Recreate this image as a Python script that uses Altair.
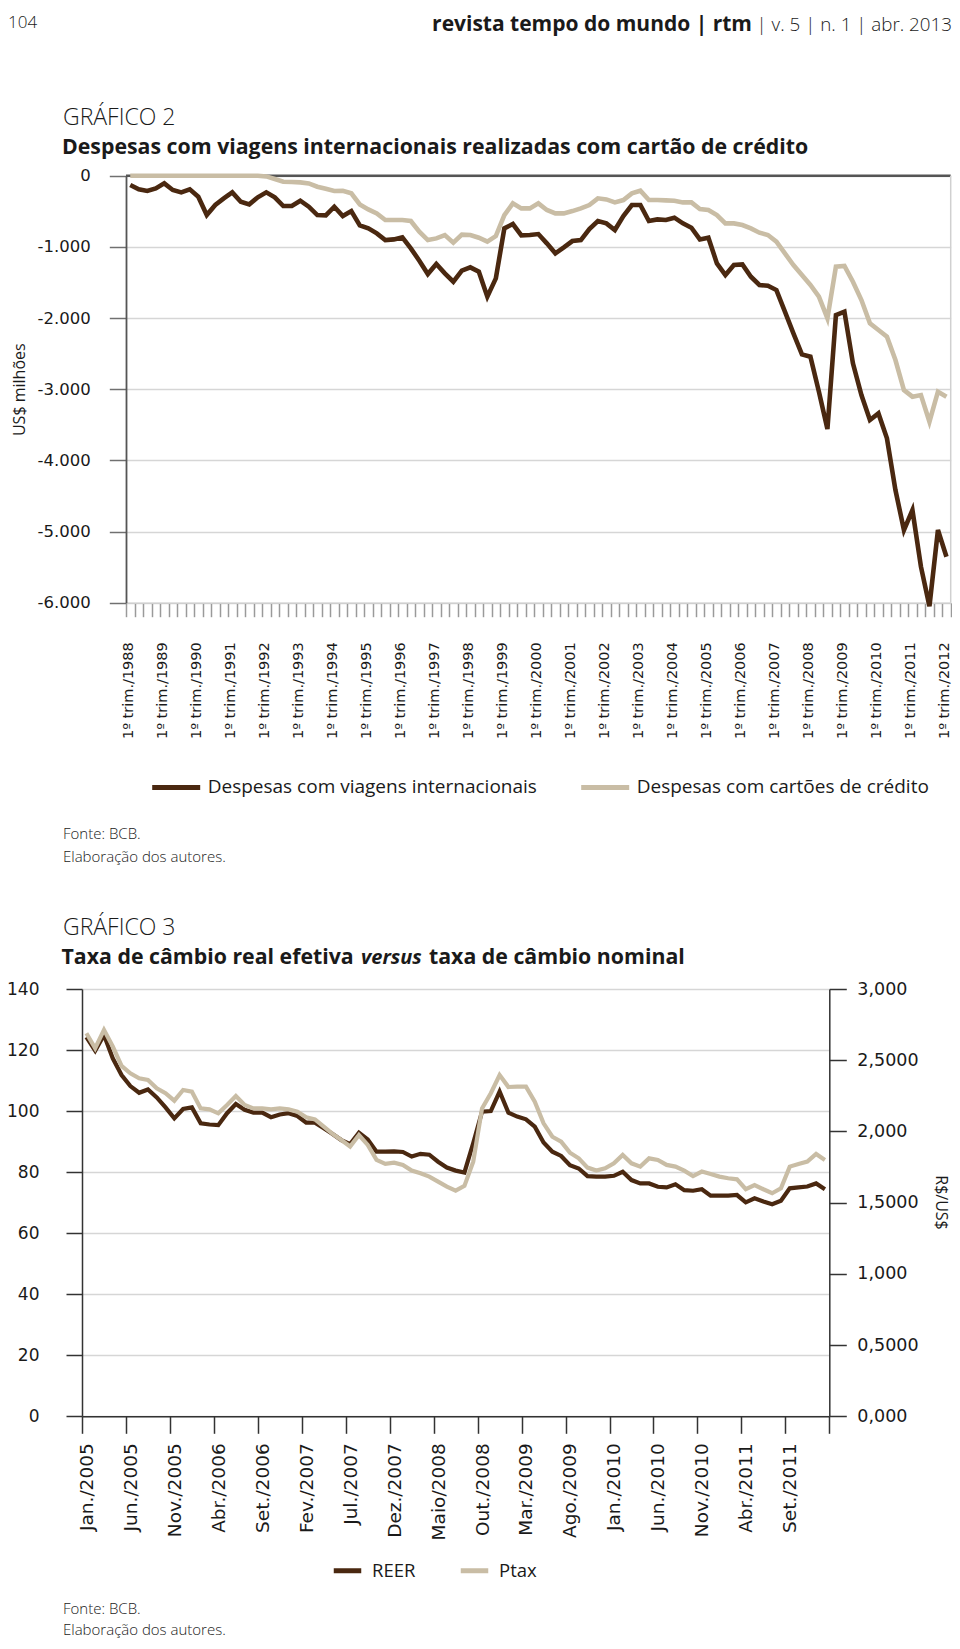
import json
import altair as alt
import pandas as pd

# ---------------- data : Gráfico 2 (quarterly, 1º trim./1988 .. 1º trim./2012) ----------------
SER1 = "Despesas com viagens internacionais"
SER2 = "Despesas com cartões de crédito"

travel = [-131, -192, -215, -178, -108, -201, -234, -192, -295, -553,
          -412, -318, -234, -365, -403, -304, -234, -304, -426, -426,
          -351, -436, -553, -557, -436, -567, -497, -698, -740, -810,
          -904, -895, -867, -1021, -1194, -1382, -1241, -1372, -1490, -1335,
          -1288, -1349, -1700, -1443, -740, -679, -838, -834, -820, -951,
          -1091, -1007, -918, -904, -749, -637, -670, -763, -567, -412,
          -412, -637, -614, -623, -590, -670, -731, -895, -871, -1232,
          -1396, -1255, -1246, -1419, -1536, -1546, -1607, -1911, -2216, -2511,
          -2543, -3035, -3560, -1958, -1911, -2637, -3082, -3433, -3340, -3691,
          -4417, -4979, -4698, -5494, -6050, -4979, -5354]

cards = [0, 0, 0, 0, 0, 0, 0, 0, 0, 0,
         0, 0, 0, 0, 0, 0, -10, -47, -84, -89,
         -94, -108, -155, -183, -215, -211, -248, -403, -473, -529,
         -623, -623, -623, -637, -787, -904, -881, -834, -941, -829,
         -834, -871, -927, -848, -553, -389, -459, -459, -389, -482,
         -529, -529, -497, -459, -412, -318, -333, -375, -342, -248,
         -211, -342, -342, -347, -351, -375, -375, -468, -482, -553,
         -670, -670, -693, -740, -801, -834, -927, -1091, -1255, -1396,
         -1536, -1700, -2005, -1279, -1269, -1490, -1747, -2075, -2169, -2262,
         -2590, -3012, -3105, -3082, -3457, -3035, -3105]

x1_labels = ["1º trim./1988", "1º trim./1989", "1º trim./1990", "1º trim./1991",
             "1º trim./1992", "1º trim./1993", "1º trim./1994", "1º trim./1995",
             "1º trim./1996", "1º trim./1997", "1º trim./1998", "1º trim./1999",
             "1º trim./2000", "1º trim./2001", "1º trim./2002", "1º trim./2003",
             "1º trim./2004", "1º trim./2005", "1º trim./2006", "1º trim./2007",
             "1º trim./2008", "1º trim./2009", "1º trim./2010", "1º trim./2011",
             "1º trim./2012"]
y1_values = [-6000, -5000, -4000, -3000, -2000, -1000, 0]
y1_labels = ["-6.000", "-5.000", "-4.000", "-3.000", "-2.000", "-1.000", "0"]

# ---------------- data : Gráfico 3 (monthly, Jan./2005 .. Jan./2012) ----------------
reer = [124.2, 119.8, 124.9, 117.3, 111.8, 108.2, 106.0, 107.1, 104.5, 101.2,
        97.6, 100.7, 101.2, 96.0, 95.6, 95.4, 99.3, 102.3, 100.4, 99.5,
        99.5, 98.0, 98.9, 99.3, 98.4, 96.2, 96.2, 94.4, 92.5, 90.5,
        89.2, 92.9, 90.7, 86.7, 86.7, 86.8, 86.6, 85.1, 86.0, 85.7,
        83.4, 81.5, 80.5, 79.9, 89.5, 99.8, 100.0, 106.4, 99.5, 98.2,
        97.3, 94.9, 89.7, 86.7, 85.3, 82.3, 81.2, 78.7, 78.5, 78.5,
        78.8, 80.1, 77.4, 76.3, 76.3, 75.2, 75.0, 76.0, 74.1, 73.9,
        74.4, 72.3, 72.3, 72.3, 72.5, 70.1, 71.4, 70.4, 69.5, 70.6,
        74.7, 75.0, 75.3, 76.3, 74.4]

ptax = [2.689, 2.584, 2.713, 2.596, 2.460, 2.408, 2.373, 2.361, 2.303, 2.268,
        2.216, 2.291, 2.279, 2.162, 2.155, 2.127, 2.186, 2.249, 2.186, 2.162,
        2.162, 2.155, 2.162, 2.155, 2.139, 2.099, 2.085, 2.034, 1.983, 1.940,
        1.894, 1.975, 1.905, 1.800, 1.772, 1.781, 1.765, 1.725, 1.706, 1.683,
        1.648, 1.613, 1.585, 1.618, 1.788, 2.162, 2.268, 2.396, 2.312, 2.314,
        2.314, 2.209, 2.057, 1.963, 1.928, 1.851, 1.811, 1.746, 1.725, 1.741,
        1.776, 1.835, 1.776, 1.753, 1.811, 1.800, 1.765, 1.753, 1.725, 1.687,
        1.718, 1.701, 1.683, 1.671, 1.664, 1.594, 1.624, 1.594, 1.566, 1.601,
        1.753, 1.772, 1.788, 1.842, 1.800]

x2_labels = ["Jan./2005", "Jun./2005", "Nov./2005", "Abr./2006", "Set./2006",
             "Fev./2007", "Jul./2007", "Dez./2007", "Maio/2008", "Out./2008",
             "Mar./2009", "Ago./2009", "Jan./2010", "Jun./2010", "Nov./2010",
             "Abr./2011", "Set./2011"]
y2l_values = [0, 20, 40, 60, 80, 100, 120, 140]
y2r_values = [0, 0.5, 1, 1.5, 2, 2.5, 3]
y2r_labels = ["0,000", "0,5000", "1,000", "1,5000", "2,000", "2,5000", "3,000"]

# ---------------- style ----------------
W, H = 944, 1630
F_AX = "DejaVu Sans"
F_TX = "Open Sans"
INK = "#1a1a1a"
DARK = "#4a2810"
BEIGE = "#c9bda5"
GRID = "#d6d6d6"

n1 = len(travel)
n2 = len(reer)

df1a = pd.DataFrame({"q": range(n1), "v": travel, "s": [SER1] * n1})
df1b = pd.DataFrame({"q": range(n1), "v": cards, "s": [SER2] * n1})
df2r = pd.DataFrame({"m": range(n2), "val": reer, "s": ["REER"] * n2})
df2p = pd.DataFrame({"m": range(n2), "val": ptax, "s": ["Ptax"] * n2})

one = alt.Data(values=[{}])

# ---------------- Gráfico 2 ----------------
sx1 = alt.Scale(domain=[-0.5, n1 - 0.5], range=[118, 942.7], nice=False, zero=False)
sy1 = alt.Scale(domain=[-6000, 0], range=[594.7, 167.7], nice=False, zero=False)
col1 = alt.Scale(domain=[SER1, SER2], range=[DARK, BEIGE])

x1_ticks = [i - 0.5 for i in range(n1 + 1)]
lab1 = json.dumps(x1_labels, ensure_ascii=False)
ax_x1 = alt.Axis(orient="bottom", offset=594.7 - H, values=x1_ticks,
                 labelExpr=f"(datum.value + 0.5) % 4 == 0 ? ({lab1}[round((datum.value + 0.5) / 4)] || '') : ''",
                 labelAngle=-90, labelFont=F_AX, labelFontSize=14.5, labelColor=INK,
                 labelPadding=25, labelOffset=2.6, labelOverlap=False, labelBound=False,
                 labelFlush=False, tickSize=14, tickColor="#9a9a9a", tickWidth=1.5,
                 domain=True, domainColor="#cfcfcf", domainWidth=1.5, grid=False, title=None)
laby1 = json.dumps(y1_labels, ensure_ascii=False)
ax_y1 = alt.Axis(orient="left", offset=-118, values=y1_values,
                 labelExpr=f"{laby1}[round((datum.value + 6000) / 1000)]",
                 labelFont=F_AX, labelFontSize=16.5, labelColor=INK, labelPadding=19,
                 tickSize=16.7, tickColor="#707070", tickWidth=1.5,
                 domainColor="#555555", domainWidth=1.8,
                 grid=True, gridColor=GRID, gridWidth=1.5,
                 title="US$ milhões", titleFont=F_TX, titleFontSize=16, titleFontWeight="normal",
                 titleColor=INK, titleAngle=270, titleX=11.5 - 118, titleY=381.2,
                 titleAlign="center", titleBaseline="middle")

leg1 = alt.Legend(orient="none", legendX=141.7, legendY=752.7, direction="horizontal", title=None,
                  symbolType="stroke", symbolSize=2304, symbolStrokeWidth=5,
                  labelFont=F_TX, labelFontSize=19, labelColor=INK, labelOffset=5,
                  columnPadding=33, labelLimit=1000, padding=0)

top_rule = alt.Chart(one).mark_rule(color="#555555", strokeWidth=2.5).encode(
    x=alt.XDatum(-0.5, scale=sx1, axis=None), x2=alt.X2Datum(n1 - 0.5),
    y=alt.YDatum(0, scale=sy1, axis=None))
right_rule = alt.Chart(one).mark_rule(color="#d0d0d0", strokeWidth=1.5).encode(
    x=alt.XDatum(n1 - 0.5, scale=sx1, axis=None),
    y=alt.YDatum(-6000, scale=sy1, axis=None), y2=alt.Y2Datum(0))
line_travel = alt.Chart(df1a).mark_line(strokeWidth=4.6).encode(
    x=alt.X("q:Q", scale=sx1, axis=ax_x1),
    y=alt.Y("v:Q", scale=sy1, axis=ax_y1),
    color=alt.Color("s:N", scale=col1, legend=leg1))
line_cards = alt.Chart(df1b).mark_line(strokeWidth=4.6).encode(
    x=alt.X("q:Q", scale=sx1, axis=None),
    y=alt.Y("v:Q", scale=sy1, axis=None),
    color=alt.Color("s:N", scale=col1, legend=None))

# ---------------- Gráfico 3 ----------------
sx2 = alt.Scale(domain=[-0.5, n2 - 0.5], range=[74, 821.3], nice=False, zero=False)
sy2l = alt.Scale(domain=[0, 140], range=[1408.3, 981], nice=False, zero=False)
sy2r = alt.Scale(domain=[0, 3], range=[1408.3, 981], nice=False, zero=False)
col2 = alt.Scale(domain=["REER", "Ptax"], range=[DARK, BEIGE])

x2_ticks = [i - 0.5 for i in range(0, n2 + 1, 5)]
lab2 = json.dumps(x2_labels, ensure_ascii=False)
ax_x2 = alt.Axis(orient="bottom", offset=1408.3 - H, values=x2_ticks,
                 labelExpr=f"{lab2}[round((datum.value + 0.5) / 5)] || ''",
                 labelAngle=-90, labelFont=F_AX, labelFontSize=18.5, labelColor=INK,
                 labelPadding=9.5, labelOffset=4.4, labelOverlap=False, labelBound=False,
                 labelFlush=False, tickSize=17, tickColor="#333333", tickWidth=1.5,
                 domainColor="#333333", domainWidth=1.5, grid=False, title=None)
ax_y2l = alt.Axis(orient="left", offset=-74, values=y2l_values,
                  labelFont=F_AX, labelFontSize=17, labelColor=INK, labelPadding=27,
                  tickSize=16, tickColor="#333333", tickWidth=1.5,
                  domainColor="#333333", domainWidth=1.5,
                  grid=True, gridColor=GRID, gridWidth=1.5, title=None)
laby2 = json.dumps(y2r_labels, ensure_ascii=False)
ax_y2r = alt.Axis(orient="right", offset=821.3 - W, values=y2r_values,
                  labelExpr=f"{laby2}[round(datum.value * 2)]",
                  labelFont=F_AX, labelFontSize=17.5, labelColor=INK, labelPadding=10.5,
                  tickSize=17, tickColor="#333333", tickWidth=1.5,
                  domainColor="#333333", domainWidth=1.5, grid=False,
                  title="R$/US$", titleFont=F_TX, titleFontSize=16, titleFontWeight="normal",
                  titleColor=INK, titleAngle=90, titleX=932 - 821.3, titleY=1194,
                  titleAlign="center", titleBaseline="middle")

leg2 = alt.Legend(orient="none", legendX=323, legendY=1546, direction="horizontal", title=None,
                  symbolType="stroke", symbolSize=756, symbolStrokeWidth=5,
                  labelFont=F_TX, labelFontSize=18.5, labelColor=INK, labelOffset=8,
                  columnPadding=34, labelLimit=1000, padding=0)

line_reer = alt.Chart(df2r).mark_line(strokeWidth=4.2).encode(
    x=alt.X("m:Q", scale=sx2, axis=ax_x2),
    y=alt.Y("val:Q", scale=sy2l, axis=ax_y2l),
    color=alt.Color("s:N", scale=col2, legend=leg2))
line_ptax = alt.Chart(df2p).mark_line(strokeWidth=4.2).encode(
    x=alt.X("m:Q", scale=sx2, axis=None),
    y=alt.Y("val:Q", scale=sy2r, axis=ax_y2r),
    color=alt.Color("s:N", scale=col2, legend=None))


# ---------------- page texts ----------------
def txt(text, x, y, size, weight="normal", style="normal", align="left", font=F_TX):
    return alt.Chart(one).mark_text(text=text, x=x, y=y, fontSize=size, fontWeight=weight,
                                     fontStyle=style, align=align, baseline="alphabetic",
                                     font=font, color=INK)


TS = 21.3
texts = [
    txt("104", 0, 20, 17, weight=300),
    txt("revista tempo do mundo | rtm", 744, 22.5, 21, weight="bold", align="right"),
    txt("| v. 5 | n. 1 | abr. 2013", 944, 22.5, 18.8, weight=300, align="right"),
    txt("GRÁFICO 2", 55, 117, 23, weight=300),
    txt("Despesas com viagens internacionais realizadas com cartão de crédito", 54, 146, TS, weight="bold"),
    txt("Fonte: BCB.", 55, 831, 15, weight=300),
    txt("Elaboração dos autores.", 55, 854, 15, weight=300),
    txt("GRÁFICO 3", 55, 927, 23, weight=300),
    txt("Taxa de câmbio real efetiva", 53.5, 956, TS, weight="bold"),
    txt("versus", 353, 956, 20, weight="bold", style="italic"),
    txt("taxa de câmbio nominal", 421, 956, TS, weight="bold"),
    txt("Fonte: BCB.", 55, 1606, 15, weight=300),
    txt("Elaboração dos autores.", 55, 1627, 15, weight=300),
]

chart = alt.layer(
    top_rule, right_rule, line_travel, line_cards, line_reer, line_ptax, *texts
).resolve_scale(
    x="independent", y="independent", color="independent"
).properties(
    width=W, height=H, autosize=alt.AutoSizeParams(type="none"), padding=0
).configure_view(stroke=None)

chart.save("out.html", embed_options={"renderer": "svg", "actions": False})
